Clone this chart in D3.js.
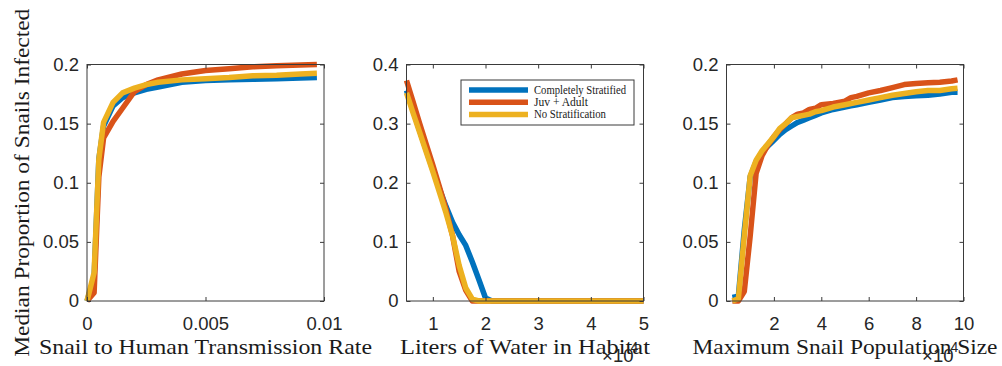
<!DOCTYPE html>
<html>
<head>
<meta charset="utf-8">
<script src="https://cdn.jsdelivr.net/npm/d3@7"></script>
<style>
  body { margin: 0; background: #fff; }
  svg { display: block; }
</style>
</head>
<body>
<svg id="chart" width="1002" height="366"></svg>
<script>
// Series shared by all three panels
const seriesNames  = ["Completely Stratified", "Juv + Adult", "No Stratification"];
const seriesColors = ["#0072BD", "#D95319", "#EDB120"];

// Panel 1: snail-to-human transmission rate
const transRate   = [0, 0.0003, 0.0005, 0.0007, 0.0011, 0.0015, 0.002, 0.0025, 0.003, 0.004, 0.005, 0.006, 0.007, 0.008, 0.009, 0.0097];
const transStrat  = [0, 0.020, 0.120, 0.148, 0.165, 0.172, 0.176, 0.179, 0.181, 0.185, 0.1865, 0.187, 0.1875, 0.188, 0.1885, 0.189];
const transJuvAd  = [0, 0.007, 0.105, 0.138, 0.152, 0.163, 0.177, 0.183, 0.187, 0.192, 0.195, 0.1965, 0.198, 0.199, 0.1995, 0.200];
const transNoStr  = [0, 0.024, 0.120, 0.151, 0.168, 0.176, 0.180, 0.183, 0.185, 0.187, 0.188, 0.189, 0.1905, 0.191, 0.192, 0.1925];

// Panel 2: liters of water in habitat
const water       = [5000, 6250, 7500, 8750, 10000, 11250, 12500, 13750, 15000, 16250, 17500, 18750, 20000, 21250, 25000, 30000, 35000, 40000, 45000, 50000];
const waterStrat  = [0.356, 0.322, 0.288, 0.255, 0.222, 0.190, 0.160, 0.133, 0.112, 0.094, 0.066, 0.036, 0.005, 0, 0, 0, 0, 0, 0, 0];
const waterJuvAd  = [0.373, 0.337, 0.300, 0.265, 0.230, 0.193, 0.155, 0.110, 0.050, 0.018, 0, 0, 0, 0, 0, 0, 0, 0, 0, 0];
const waterNoStr  = [0.352, 0.318, 0.285, 0.252, 0.219, 0.184, 0.149, 0.110, 0.060, 0.022, 0.003, 0, 0, 0, 0, 0, 0, 0, 0, 0];

// Panel 3: maximum snail population size
const popSize     = [2500, 5000, 7500, 10000, 12500, 15000, 17500, 20000, 22500, 25000, 27500, 30000, 32500, 35000, 37500, 40000, 45000, 50000, 52500, 55000, 60000, 65000, 70000, 75000, 80000, 85000, 90000, 95000, 97500];
const popStrat    = [0.003, 0.004, 0.060, 0.105, 0.118, 0.126, 0.131, 0.136, 0.141, 0.145, 0.148, 0.151, 0.153, 0.155, 0.157, 0.159, 0.162, 0.164, 0.165, 0.166, 0.168, 0.170, 0.172, 0.173, 0.1735, 0.174, 0.175, 0.1765, 0.1765];
const popJuvAd    = [0, 0, 0.008, 0.055, 0.108, 0.123, 0.132, 0.139, 0.145, 0.150, 0.155, 0.158, 0.159, 0.162, 0.163, 0.166, 0.167, 0.169, 0.172, 0.173, 0.176, 0.178, 0.1805, 0.183, 0.184, 0.1845, 0.185, 0.186, 0.187];
const popNoStr    = [0, 0.002, 0.055, 0.106, 0.119, 0.127, 0.133, 0.139, 0.146, 0.150, 0.155, 0.156, 0.157, 0.158, 0.160, 0.161, 0.164, 0.166, 0.167, 0.168, 0.170, 0.172, 0.174, 0.1755, 0.177, 0.178, 0.178, 0.1795, 0.180];

// Axis ticks and their labels
const transXTicks = [0, 0.005, 0.01];
const transXLabels = ["0", "0.005", "0.01"];
const waterXTicks = [10000, 20000, 30000, 40000, 50000];
const waterXLabels = ["1", "2", "3", "4", "5"];
const popXTicks = [20000, 40000, 60000, 80000, 100000];
const popXLabels = ["2", "4", "6", "8", "10"];
const yTicksSmall = [0, 0.05, 0.1, 0.15, 0.2];
const yLabelsSmall = ["0", "0.05", "0.1", "0.15", "0.2"];
const yTicksLarge = [0, 0.1, 0.2, 0.3, 0.4];
const yLabelsLarge = ["0", "0.1", "0.2", "0.3", "0.4"];

const yTitle = "Median Proportion of Snails Infected";

const panels = [
  { left: 87,    xDomain: [0, 0.01],      yDomain: [0, 0.2], x: transRate, ys: [transStrat, transJuvAd, transNoStr],
    xTicks: transXTicks, xLabels: transXLabels, yTicks: yTicksSmall, yLabels: yLabelsSmall,
    title: "Snail to Human Transmission Rate", titleLen: 333, exponent: false, legend: false, yTitle: true },
  { left: 406.5, xDomain: [5000, 50000],  yDomain: [0, 0.4], x: water, ys: [waterStrat, waterJuvAd, waterNoStr],
    xTicks: waterXTicks, xLabels: waterXLabels, yTicks: yTicksLarge, yLabels: yLabelsLarge,
    title: "Liters of Water in Habitat", titleLen: 250, exponent: true, legend: true, yTitle: false },
  { left: 726.5, xDomain: [0, 100000],    yDomain: [0, 0.2], x: popSize, ys: [popStrat, popJuvAd, popNoStr],
    xTicks: popXTicks, xLabels: popXLabels, yTicks: yTicksSmall, yLabels: yLabelsSmall,
    title: "Maximum Snail Population Size", titleLen: 305, exponent: true, legend: false, yTitle: false }
];

const plotTop = 64.5, plotW = 237, plotH = 236.5;
const sansFont = "'Liberation Sans', Arial, Helvetica, sans-serif";
const serifFont = "'Liberation Serif', 'Times New Roman', serif";
const axisColor = "#3a3a3a";
const tickLen = 4;

const svg = d3.select("#chart");
svg.append("rect").attr("width", 1002).attr("height", 366).attr("fill", "#fff");

panels.forEach(p => {
  const g = svg.append("g").attr("transform", `translate(${p.left},${plotTop})`);
  const x = d3.scaleLinear().domain(p.xDomain).range([0, plotW]);
  const y = d3.scaleLinear().domain(p.yDomain).range([plotH, 0]);

  // Data lines
  const line = d3.line().x((d, i) => x(p.x[i])).y(d => y(d));
  p.ys.forEach((vals, k) => {
    g.append("path")
      .datum(vals)
      .attr("d", line)
      .attr("fill", "none")
      .attr("stroke", seriesColors[k])
      .attr("stroke-width", 5.5)
      .attr("stroke-linejoin", "round");
  });

  // Axes with inward ticks on all four sides
  const styleAxis = sel => {
    sel.select(".domain").remove();
    sel.selectAll(".tick line").attr("stroke", axisColor).attr("stroke-width", 1);
    sel.selectAll(".tick text").attr("fill", "#262626")
      .style("font-family", sansFont).style("font-size", "18.5px");
  };
  g.append("g").attr("transform", `translate(0,${plotH})`)
    .call(d3.axisBottom(x).tickValues(p.xTicks).tickFormat((d, i) => p.xLabels[i])
      .tickSizeInner(-tickLen).tickSizeOuter(0).tickPadding(16))
    .call(styleAxis);
  g.append("g")
    .call(d3.axisTop(x).tickValues(p.xTicks).tickFormat("")
      .tickSizeInner(-tickLen).tickSizeOuter(0))
    .call(styleAxis);
  g.append("g")
    .call(d3.axisLeft(y).tickValues(p.yTicks).tickFormat((d, i) => p.yLabels[i])
      .tickSizeInner(-tickLen).tickSizeOuter(0).tickPadding(8))
    .call(styleAxis);
  g.append("g").attr("transform", `translate(${plotW},0)`)
    .call(d3.axisRight(y).tickValues(p.yTicks).tickFormat("")
      .tickSizeInner(-tickLen).tickSizeOuter(0))
    .call(styleAxis);

  // Box outline
  g.append("rect")
    .attr("x", 0).attr("y", 0).attr("width", plotW).attr("height", plotH)
    .attr("fill", "none").attr("stroke", axisColor).attr("stroke-width", 1);

  // x-axis title
  g.append("text")
    .attr("x", plotW / 2).attr("y", 354 - plotTop)
    .attr("text-anchor", "middle")
    .attr("textLength", p.titleLen).attr("lengthAdjust", "spacingAndGlyphs")
    .style("font-family", serifFont).style("font-size", "21px").attr("fill", "#1a1a1a")
    .text(p.title);

  // ×10^4 exponent label
  if (p.exponent) {
    g.append("text")
      .attr("x", plotW - 10).attr("y", 361.5 - plotTop)
      .attr("text-anchor", "end")
      .style("font-family", sansFont).style("font-size", "18.5px").attr("fill", "#262626")
      .text("\u00d710");
    g.append("text")
      .attr("x", plotW - 13).attr("y", 351.5 - plotTop)
      .style("font-family", sansFont).style("font-size", "14px").attr("fill", "#262626")
      .text("4");
  }

  // y-axis title (first panel only)
  if (p.yTitle) {
    g.append("text")
      .attr("transform", `translate(${28.5 - p.left},${plotH / 2}) rotate(-90)`)
      .attr("text-anchor", "middle")
      .attr("textLength", 348).attr("lengthAdjust", "spacingAndGlyphs")
      .style("font-family", serifFont).style("font-size", "21px").attr("fill", "#1a1a1a")
      .text(yTitle);
  }

  // Legend
  if (p.legend) {
    const lg = svg.append("g").attr("transform", "translate(461,80)");
    lg.append("rect").attr("width", 173).attr("height", 45)
      .attr("fill", "#fff").attr("stroke", axisColor).attr("stroke-width", 1);
    const legendLens = [92, 54, 72];
    seriesNames.forEach((name, k) => {
      const cy = 10 + k * 12.2;
      lg.append("line").attr("x1", 8).attr("x2", 67).attr("y1", cy).attr("y2", cy)
        .attr("stroke", seriesColors[k]).attr("stroke-width", 5.5);
      lg.append("text").attr("x", 73).attr("y", cy).attr("dy", "0.35em")
        .attr("textLength", legendLens[k]).attr("lengthAdjust", "spacingAndGlyphs")
        .style("font-family", serifFont).style("font-size", "11.5px").attr("fill", "#1a1a1a")
        .text(name);
    });
  }
});
</script>
</body>
</html>
